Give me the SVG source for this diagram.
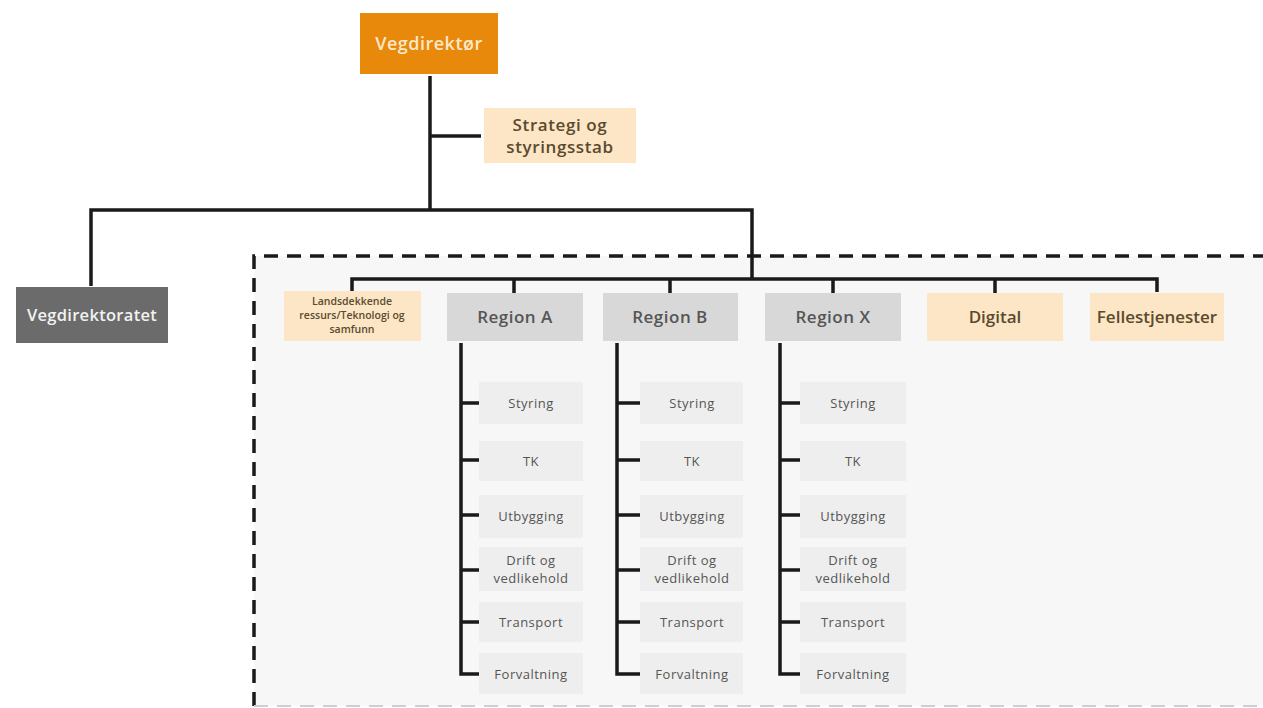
<svg xmlns="http://www.w3.org/2000/svg" width="1263" height="708" viewBox="0 0 1263 708">
<style>
text{font-family:"Open Sans","Noto Sans","DejaVu Sans",sans-serif;text-anchor:middle}
.ln{fill:none;stroke:#1a1a1a;stroke-width:3.5;stroke-linejoin:miter;stroke-linecap:butt}
.peach{fill:#FCE6C6}
.reg{fill:#D8D8D8}
.sub{fill:#EEEEEE}
.pt{fill:#5a4a2e;font-weight:600}
.rt{fill:#555;font-size:17px;font-weight:600;letter-spacing:0.5px}
.st{fill:#555;font-size:13px;letter-spacing:0.5px}
</style>
<rect width="1263" height="708" fill="#ffffff"/>
<rect x="254" y="256" width="1020" height="450" fill="#F7F7F7"/>
<path d="M254 706 V256 H1263" fill="none" stroke="#1a1a1a" stroke-width="3.5" stroke-dasharray="14 9"/>
<path d="M254 706 H1263" fill="none" stroke="#cfcfcf" stroke-width="2" stroke-dasharray="14 9"/>

<g id="connectors">
<path class="ln" d="M430 76 V210"/>
<path class="ln" d="M430 136 H481"/>
<path class="ln" d="M91 286 V210 H752 V279"/>
<path class="ln" d="M352 292 V279 H1157 V292"/>
<path class="ln" d="M514 279 V293 M670 279 V293 M833 279 V293 M995 279 V293"/>
<path class="ln" d="M461 343 V674 H479 M461 403 H479 M461 460 H479 M461 515 H479 M461 570 H479 M461 622 H479"/>
<path class="ln" d="M617 343 V674 H642 M617 403 H642 M617 460 H642 M617 515 H642 M617 570 H642 M617 622 H642"/>
<path class="ln" d="M780 343 V674 H800 M780 403 H800 M780 460 H800 M780 515 H800 M780 570 H800 M780 622 H800"/>
</g>

<g id="vegdirektor"><rect x="360" y="13" width="138" height="61" fill="#E8890C"/><text x="429" y="50" fill="#FCE8C8" font-size="18" font-weight="600" letter-spacing="0.5">Vegdirektør</text></g>
<g id="strategi"><rect class="peach" x="484" y="108" width="152" height="55"/><text class="pt" x="560" y="131" font-size="17" letter-spacing="0.6">Strategi og</text><text class="pt" x="560" y="153" font-size="17" letter-spacing="0.6">styringsstab</text></g>
<g id="vegdirektoratet"><rect x="16" y="287" width="152" height="56" fill="#6B6B6B"/><text x="92" y="321" fill="#F2F2F2" font-size="16.5" font-weight="600" letter-spacing="0.3">Vegdirektoratet</text></g>
<g id="landsdekkende"><rect class="peach" x="284" y="291" width="137" height="50"/><text class="pt" x="352" y="305" font-size="10.5">Landsdekkende</text><text class="pt" x="352" y="319" font-size="10.5">ressurs/Teknologi og</text><text class="pt" x="352" y="333" font-size="10.5">samfunn</text></g>
<g id="regionA"><rect class="reg" x="447" y="293" width="136" height="48"/><text class="rt" x="515" y="323">Region A</text></g>
<g id="regionB"><rect class="reg" x="603" y="293" width="135" height="48"/><text class="rt" x="670" y="323">Region B</text></g>
<g id="regionX"><rect class="reg" x="765" y="293" width="136" height="48"/><text class="rt" x="833" y="323">Region X</text></g>
<g id="digital"><rect class="peach" x="927" y="293" width="136" height="48"/><text class="pt" x="995" y="323" font-size="17">Digital</text></g>
<g id="fellestjenester"><rect class="peach" x="1090" y="293" width="134" height="48"/><text class="pt" x="1157" y="323" font-size="17">Fellestjenester</text></g>

<g id="regionA-subs">
<g id="a-styring"><rect class="sub" x="479" y="382" width="104" height="42"/><text class="st" x="531" y="408">Styring</text></g>
<g id="a-tk"><rect class="sub" x="479" y="441" width="104" height="40"/><text class="st" x="531" y="466">TK</text></g>
<g id="a-utbygging"><rect class="sub" x="479" y="495" width="104" height="43"/><text class="st" x="531" y="521">Utbygging</text></g>
<g id="a-drift"><rect class="sub" x="479" y="547" width="104" height="44"/><text class="st" x="531" y="565">Drift og</text><text class="st" x="531" y="583">vedlikehold</text></g>
<g id="a-transport"><rect class="sub" x="479" y="602" width="104" height="40"/><text class="st" x="531" y="627">Transport</text></g>
<g id="a-forvaltning"><rect class="sub" x="479" y="653" width="104" height="41"/><text class="st" x="531" y="679">Forvaltning</text></g>
</g>
<g id="regionB-subs">
<g id="b-styring"><rect class="sub" x="640" y="382" width="103" height="42"/><text class="st" x="692" y="408">Styring</text></g>
<g id="b-tk"><rect class="sub" x="640" y="441" width="103" height="40"/><text class="st" x="692" y="466">TK</text></g>
<g id="b-utbygging"><rect class="sub" x="640" y="495" width="103" height="43"/><text class="st" x="692" y="521">Utbygging</text></g>
<g id="b-drift"><rect class="sub" x="640" y="547" width="103" height="44"/><text class="st" x="692" y="565">Drift og</text><text class="st" x="692" y="583">vedlikehold</text></g>
<g id="b-transport"><rect class="sub" x="640" y="602" width="103" height="40"/><text class="st" x="692" y="627">Transport</text></g>
<g id="b-forvaltning"><rect class="sub" x="640" y="653" width="103" height="41"/><text class="st" x="692" y="679">Forvaltning</text></g>
</g>
<g id="regionX-subs">
<g id="x-styring"><rect class="sub" x="800" y="382" width="106" height="42"/><text class="st" x="853" y="408">Styring</text></g>
<g id="x-tk"><rect class="sub" x="800" y="441" width="106" height="40"/><text class="st" x="853" y="466">TK</text></g>
<g id="x-utbygging"><rect class="sub" x="800" y="495" width="106" height="43"/><text class="st" x="853" y="521">Utbygging</text></g>
<g id="x-drift"><rect class="sub" x="800" y="547" width="106" height="44"/><text class="st" x="853" y="565">Drift og</text><text class="st" x="853" y="583">vedlikehold</text></g>
<g id="x-transport"><rect class="sub" x="800" y="602" width="106" height="40"/><text class="st" x="853" y="627">Transport</text></g>
<g id="x-forvaltning"><rect class="sub" x="800" y="653" width="106" height="41"/><text class="st" x="853" y="679">Forvaltning</text></g>
</g>
</svg>
